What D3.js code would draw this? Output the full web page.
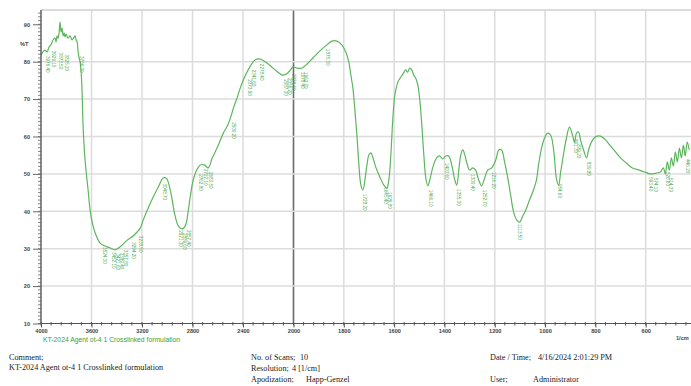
<!DOCTYPE html>
<html>
<head>
<meta charset="utf-8">
<script src="https://cdn.jsdelivr.net/npm/d3@7"></script>
<style>
  html, body { margin: 0; padding: 0; background: #fff; }
  svg { display: block; }
  .foot { font-family: "Liberation Serif", "DejaVu Serif", serif; font-size: 8.2px; fill: #222; }
  .tick text { font-family: "Liberation Sans", Arial, sans-serif; }
</style>
</head>
<body>
<svg id="chart" width="691" height="386"></svg>
<script>
// IR spectrum: wavenumber (1/cm) vs. transmittance (%T)
const wavenumber = [4000,3984,3968,3952,3937,3921,3905,3889,3881,3873,3865,3857,3849,3841,3833,3825,3817,3810,3802,3786,3770,3754,3738,3730,3722,3714,3706,3698,3690,3683,3675,3667,3651,3627,3611,3595,3571,3532,3492,3452,3413,3373,3317,3270,3238,3214,3190,3151,3111,3071,3032,3008,2992,2968,2944,2913,2881,2857,2833,2817,2794,2770,2738,2706,2675,2643,2595,2556,2524,2500,2476,2444,2413,2381,2341,2302,2262,2222,2183,2135,2087,2056,2024,2004,1986,1966,1946,1923,1895,1867,1847,1827,1808,1792,1780,1772,1764,1756,1748,1740,1732,1724,1716,1708,1700,1692,1684,1673,1657,1641,1629,1621,1613,1605,1597,1585,1573,1562,1554,1546,1538,1530,1522,1514,1506,1498,1490,1482,1474,1466,1458,1446,1431,1419,1407,1395,1383,1371,1359,1351,1343,1335,1327,1319,1312,1300,1288,1276,1264,1252,1240,1228,1212,1196,1184,1173,1161,1149,1137,1125,1113,1101,1089,1077,1062,1046,1034,1026,1014,1002,990,978,966,954,946,938,927,915,903,891,883,875,867,859,847,835,827,816,800,780,760,740,720,700,677,653,625,605,582,558,542,530,522,514,506,498,490,482,474,466,458,450,443,435,427];
const transmittance = [81.8,82.6,83.1,82.6,83.9,84.5,85.8,86.3,85.3,86.9,86.3,87.7,90.6,87.9,89.0,86.9,87.7,86.6,87.4,86.3,86.9,85.8,86.6,86.9,85.8,85.3,82.6,81.0,79.9,77.8,72.4,63.1,53.7,45.7,40.3,37.1,34.2,31.5,30.7,30.2,29.7,30.5,32.3,33.4,34.5,35.5,37.7,40.9,43.8,46.5,48.9,48.9,47.8,44.4,39.8,36.1,35.3,36.1,40.3,44.1,48.4,50.8,52.4,52.4,51.6,54.3,57.7,60.9,62.8,64.9,67.6,70.6,73.8,76.4,78.9,80.5,80.7,79.9,78.9,77.5,76.4,76.7,77.8,78.6,78.3,78.3,79.4,81.0,82.9,84.5,85.5,85.5,84.5,82.6,79.9,76.4,73.0,67.1,60.4,52.4,47.0,45.7,48.4,52.4,55.1,55.6,54.3,51.8,49.2,47.0,46.2,48.4,55.1,64.9,71.1,74.6,75.9,77.0,77.8,77.2,78.3,77.8,76.4,75.6,73.8,69.8,63.1,55.1,48.9,46.8,48.4,51.8,54.3,54.8,54.0,54.8,54.8,52.4,48.4,47.0,51.0,55.1,56.4,55.1,53.2,51.0,51.6,51.0,48.4,46.8,48.9,51.0,51.6,53.7,56.4,56.4,53.2,49.2,44.4,39.8,37.7,37.1,38.7,40.3,43.0,45.7,48.4,52.4,56.9,59.6,60.9,60.4,56.4,48.4,47.0,50.5,55.1,59.6,62.5,60.4,58.5,60.9,61.2,59.1,56.4,54.3,56.4,58.5,59.9,60.1,59.1,57.5,55.9,54.3,52.9,51.6,51.0,50.5,50.0,50.2,50.5,51.6,50.0,53.2,51.0,54.3,52.1,55.9,53.2,56.9,54.3,57.7,54.8,58.5,56.4];

// picked peaks (position, %T at the band minimum)
const peakWn = [3976.4,3929.1,3873.5,3825.2,3706.3,3524.3,3452.1,3421.6,3389.4,3357.8,3294.2,3238.5,3048.7,2921.3,2889.6,2857.4,2762.8,2722.1,2683.5,2500.2,2373.9,2341.6,2278.4,2087.3,2056.2,2024.6,1978.4,1962.7,1875.3,1728.2,1645.4,1629.8,1466.1,1403.6,1355.3,1300.4,1252.7,1216.2,1113.5,954.6,891.3,879.2,839.8,593.4,574.1,526.6,514.3,446.2];
const peakT  = [82.6,84.0,83.5,83.0,82.6,31.5,30.2,29.8,30.0,30.8,32.8,34.5,48.5,36.0,35.3,36.1,51.0,52.4,51.6,64.9,76.4,78.9,80.5,76.4,76.7,77.8,78.3,78.3,84.5,45.7,47.5,46.2,46.8,54.0,47.0,51.0,46.8,51.6,37.7,48.4,60.4,59.0,54.3,50.2,50.0,51.6,50.0,55.0];

const xTicks = [4000,3600,3200,2800,2400,2000,1800,1600,1400,1200,1000,800,600];
const yTicks = [10,20,30,40,50,60,70,80,90];

const sampleName = "KT-2024 Agent ot-4 1 Crosslinked formulation";

const svg = d3.select("#chart");
const plotL = 41, plotR = 691, plotT = 10, plotB = 323.5;

// x scale is expanded below 2000 1/cm
const x = d3.scaleLinear().domain([4000, 2000, 400]).range([plotL, 293.5, 696]);
const y = d3.scaleLinear().domain([10, 90]).range([plotB, 24.3]);

// grid
const grid = svg.append("g");
grid.selectAll("line.v").data(xTicks.filter(d => d !== 4000)).join("line")
  .attr("x1", d => x(d)).attr("x2", d => x(d)).attr("y1", plotT).attr("y2", plotB)
  .attr("stroke", d => d === 2000 ? "#6a6a6a" : "#dcdcdc")
  .attr("stroke-width", d => d === 2000 ? 1.6 : 1.5);
grid.selectAll("line.h").data(yTicks.filter(d => d > 10 && d < 90)).join("line")
  .attr("x1", plotL).attr("x2", plotR).attr("y1", d => y(d)).attr("y2", d => y(d))
  .attr("stroke", "#dcdcdc").attr("stroke-width", 1.5);
grid.append("line").attr("x1", plotL).attr("x2", plotR).attr("y1", plotT).attr("y2", plotT)
  .attr("stroke", "#cfcfcf").attr("stroke-width", 1.5);

// clipped plot area
svg.append("clipPath").attr("id", "plot").append("rect")
  .attr("x", plotL).attr("y", plotT).attr("width", plotR - plotL).attr("height", plotB - plotT + 40);

const pts = wavenumber.map((w, i) => [w, transmittance[i]]);
const line = d3.line().x(d => x(d[0])).y(d => y(d[1])).curve(d3.curveCatmullRom.alpha(0.5));

const plot = svg.append("g").attr("clip-path", "url(#plot)");
plot.append("path").datum(pts).attr("d", line)
  .attr("fill", "none").attr("stroke", "#5db55d").attr("stroke-width", 1.2)
  .attr("stroke-linejoin", "round");

// peak labels, written vertically under each band
plot.selectAll("text.pk").data(peakWn).join("text")
  .attr("transform", (d, i) => `translate(${x(d) + 1.6},${y(peakT[i]) + 4}) rotate(90)`)
  .attr("font-family", "Liberation Sans, Arial, sans-serif")
  .attr("font-size", 4.6).attr("fill", "#4aa84a")
  .text(d => d3.format(".2f")(d));

// axes
const minorX = d3.range(4000, 2000, -80).concat(d3.range(2000, 380, -40));
const xAxis = svg.append("g").attr("transform", `translate(0,${plotB})`);
xAxis.append("line").attr("x1", plotL).attr("x2", plotR).attr("stroke", "#555").attr("stroke-width", 1.2);
xAxis.selectAll("line.m").data(minorX).join("line")
  .attr("x1", d => x(d)).attr("x2", d => x(d)).attr("y1", -1.5).attr("y2", 2)
  .attr("stroke", "#555").attr("stroke-width", 1);
xAxis.append("g").call(
  d3.axisBottom(x).tickValues(xTicks).tickSize(4).tickPadding(2).tickFormat(d3.format("d")))
  .call(g => g.select(".domain").remove());
xAxis.selectAll(".tick text").attr("font-size", 5.6).attr("font-weight", "bold").attr("fill", "#444");
xAxis.selectAll(".tick line").attr("stroke", "#555");
svg.append("text").attr("x", 676).attr("y", 340).attr("font-family", "Liberation Sans, Arial, sans-serif")
  .attr("font-size", 5.6).attr("font-weight", "bold").attr("fill", "#444").text("1/cm");

const minorY = d3.range(10, 94, 1);
const yAxis = svg.append("g").attr("transform", `translate(${plotL},0)`);
yAxis.append("line").attr("y1", plotT).attr("y2", plotB).attr("stroke", "#555").attr("stroke-width", 1.4);
yAxis.selectAll("line.m").data(minorY).join("line")
  .attr("x1", -3).attr("x2", 0).attr("y1", d => y(d)).attr("y2", d => y(d))
  .attr("stroke", "#666").attr("stroke-width", 0.8);
yAxis.append("g").call(
  d3.axisLeft(y).tickValues(yTicks).tickSize(8).tickPadding(3).tickFormat(d3.format("d")))
  .call(g => g.select(".domain").remove());
yAxis.selectAll(".tick text").attr("font-size", 5.6).attr("font-weight", "bold").attr("fill", "#444");
yAxis.selectAll(".tick line").attr("stroke", "#666");
svg.append("text").attr("x", 20).attr("y", 46).attr("font-family", "Liberation Sans, Arial, sans-serif")
  .attr("font-size", 5.6).attr("font-weight", "bold").attr("fill", "#444").text("%T");

// legend
svg.append("text").attr("x", 43).attr("y", 342).attr("font-family", "Liberation Sans, Arial, sans-serif")
  .attr("font-size", 6.8).attr("fill", "#3a9f3a").text(sampleName);

// footer
const foot = svg.append("g").attr("class", "foot");
const ft = (tx, ty, s) => foot.append("text").attr("x", tx).attr("y", ty).text(s);
ft(9, 360, "Comment;");
ft(9, 370, sampleName);
ft(251, 360, "No. of Scans;"); ft(300, 360, "10");
ft(251, 371, "Resolution;");   ft(292, 371, "4 [1/cm]");
ft(251, 382, "Apodization;");  ft(306, 382, "Happ-Genzel");
ft(490, 360, "Date / Time;");  ft(538, 360, "4/16/2024 2:01:29 PM");
ft(490, 382, "User;");         ft(533, 382, "Administrator");
</script>
</body>
</html>
